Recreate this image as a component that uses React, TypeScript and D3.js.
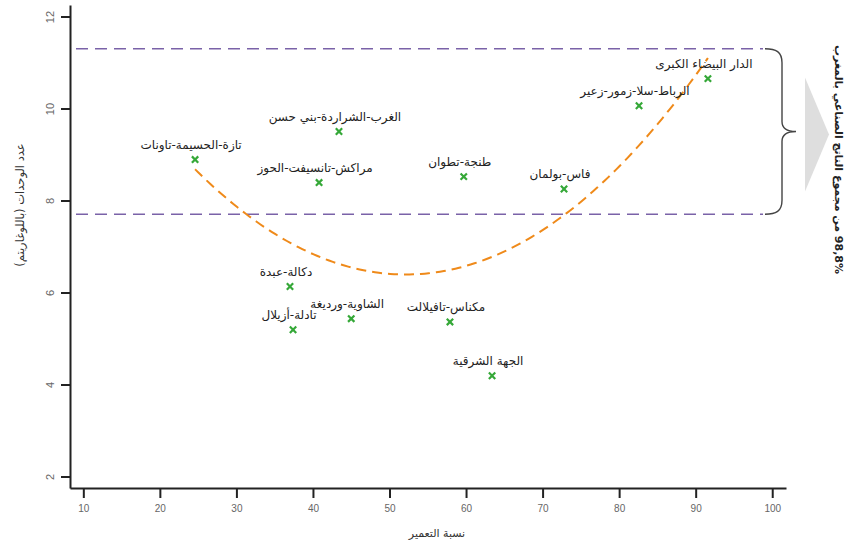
import React, { useEffect, useRef } from "react";
import * as d3 from "d3";

const regions = [
  "تازة-الحسيمة-تاونات",
  "الغرب-الشراردة-بني حسن",
  "مراكش-تانسيفت-الحوز",
  "طنجة-تطوان",
  "فاس-بولمان",
  "الرباط-سلا-زمور-زعير",
  "الدار البيضاء الكبرى",
  "دكالة-عبدة",
  "الشاوية-ورديغة",
  "تادلة-أزيلال",
  "مكناس-تافيلالت",
  "الجهة الشرقية",
];
const urbanRate = [24.6, 43.4, 40.8, 59.7, 72.8, 82.6, 91.6, 37.0, 45.0, 37.4, 57.9, 63.4];
const countValues = [8.89, 9.5, 8.39, 8.52, 8.25, 10.06, 10.65, 6.13, 5.43, 5.19, 5.36, 4.19];
const xTicks = [10, 20, 30, 40, 50, 60, 70, 80, 90, 100];
const yTicks = [2, 4, 6, 8, 10, 12];
const bandLevels = [11.3, 7.7];
const xTitle = "نسبة التعمير";
const yTitle = "عدد الوحدات (باللوغاريتم)";
const sideNote = "98,8% من مجموع الناتج الصناعي بالمغرب";

function quadFit(xs: number[], ys: number[]) {
  const n = xs.length;
  let s1 = 0, s2 = 0, s3 = 0, s4 = 0, t0 = 0, t1 = 0, t2 = 0;
  for (let i = 0; i < n; i++) {
    const x = xs[i], y = ys[i];
    s1 += x; s2 += x * x; s3 += x * x * x; s4 += x * x * x * x;
    t0 += y; t1 += x * y; t2 += x * x * y;
  }
  const M = [
    [n, s1, s2, t0],
    [s1, s2, s3, t1],
    [s2, s3, s4, t2],
  ];
  for (let i = 0; i < 3; i++) {
    for (let j = i + 1; j < 3; j++) {
      const f = M[j][i] / M[i][i];
      for (let k = i; k < 4; k++) M[j][k] -= f * M[i][k];
    }
  }
  const r = [0, 0, 0];
  for (let i = 2; i >= 0; i--) {
    let s = M[i][3];
    for (let k = i + 1; k < 3; k++) s -= M[i][k] * r[k];
    r[i] = s / M[i][i];
  }
  return r;
}

export default function App() {
  const ref = useRef<SVGSVGElement>(null);
  useEffect(() => {
    const svg = d3.select(ref.current);
    svg.selectAll("*").remove();
    const W = 850, H = 544;
    const x = d3.scaleLinear().domain([8.26, 101.8]).range([70, 786]);
    const y = d3.scaleLinear().domain([1.75, 12.25]).range([488, 5]);
    const fontAr = "'DejaVu Sans', sans-serif";
    const fontNum = "'Liberation Sans', Arial, sans-serif";

    svg.append("rect").attr("width", W).attr("height", H).attr("fill", "#fff");

    const xAxis = svg.append("g").attr("transform", "translate(0,488)")
      .call(d3.axisBottom(x).tickValues(xTicks).tickSize(10).tickSizeOuter(0).tickPadding(7));
    xAxis.select(".domain").attr("stroke", "#222").attr("stroke-width", 2);
    xAxis.selectAll(".tick line").attr("stroke", "#222").attr("stroke-width", 2);
    xAxis.selectAll(".tick text").attr("fill", "#666").attr("font-family", fontNum).attr("font-size", 10);

    const yAxis = svg.append("g").attr("transform", "translate(70,0)")
      .call(d3.axisLeft(y).tickValues(yTicks).tickSize(9).tickSizeOuter(0));
    yAxis.select(".domain").attr("stroke", "#222").attr("stroke-width", 2);
    yAxis.selectAll(".tick line").attr("stroke", "#222").attr("stroke-width", 2);
    yAxis.selectAll(".tick text")
      .attr("fill", "#666").attr("font-family", fontNum).attr("font-size", 11)
      .attr("x", null).attr("dy", null)
      .attr("text-anchor", "middle")
      .attr("transform", "translate(-20,0) rotate(-90)")
      .attr("dominant-baseline", "central");

    svg.selectAll(".band").data(bandLevels).enter().append("line")
      .attr("x1", 76).attr("x2", 763)
      .attr("y1", (d) => y(d)).attr("y2", (d) => y(d))
      .attr("stroke", "#7a62a8").attr("stroke-width", 1.6).attr("stroke-dasharray", "12,7");

    const yt = y(bandLevels[0]), yb = y(bandLevels[1]), ym = (yt + yb) / 2;
    const bx = 782;
    svg.append("path")
      .attr("d", `M765,${yt} C776,${yt} ${bx},${yt + 3} ${bx},${yt + 14} L${bx},${ym - 10} C${bx},${ym - 3} ${bx + 6},${ym} ${bx + 14},${ym} C${bx + 6},${ym} ${bx},${ym + 3} ${bx},${ym + 10} L${bx},${yb - 14} C${bx},${yb - 3} 776,${yb} 765,${yb}`)
      .attr("fill", "none").attr("stroke", "#444").attr("stroke-width", 1.4);

    svg.append("path")
      .attr("d", `M805,${ym - 54} L829,${ym + 3} L805,${ym + 60} Z`)
      .attr("fill", "#dedede");

    svg.append("text")
      .attr("transform", `translate(838,${ym + 28}) rotate(90)`)
      .attr("text-anchor", "middle").attr("dominant-baseline", "central")
      .attr("direction", "rtl")
      .attr("font-family", fontAr).attr("font-size", 11).attr("font-weight", "bold")
      .attr("fill", "#222")
      .text(sideNote);

    const [a, b, c] = quadFit(urbanRate, countValues);
    const xs = d3.range(d3.min(urbanRate)!, d3.max(urbanRate)! + 0.01, 0.5);
    const line = d3.line<number>().x((v) => x(v)).y((v) => y(a + b * v + c * v * v)).curve(d3.curveBasis);
    svg.append("path").attr("d", line(xs)!)
      .attr("fill", "none").attr("stroke", "#ef8a1a").attr("stroke-width", 2)
      .attr("stroke-dasharray", "10,6");

    const sym = d3.symbol().type(d3.symbolTimes).size(28);
    svg.selectAll(".pt").data(urbanRate).enter().append("path")
      .attr("d", sym()!)
      .attr("transform", (d, i) => `translate(${x(d)},${y(countValues[i])})`)
      .attr("fill", "none").attr("stroke", "#35a838").attr("stroke-width", 2.2);

    svg.selectAll(".lbl").data(regions).enter().append("text")
      .attr("x", (d, i) => x(urbanRate[i]) - 4)
      .attr("y", (d, i) => y(countValues[i]) - 11)
      .attr("text-anchor", "middle")
      .attr("direction", "rtl")
      .attr("font-family", fontAr).attr("font-size", 12)
      .attr("fill", "#222")
      .text((d) => d);

    svg.append("text").attr("x", 437).attr("y", 537)
      .attr("text-anchor", "middle").attr("direction", "rtl")
      .attr("font-family", fontAr).attr("font-size", 11).attr("fill", "#333")
      .text(xTitle);
    svg.append("text")
      .attr("transform", "translate(20,205) rotate(-90)")
      .attr("text-anchor", "middle").attr("direction", "rtl").attr("dominant-baseline", "central")
      .attr("font-family", fontAr).attr("font-size", 11.5).attr("fill", "#333")
      .text(yTitle);
  }, []);
  return (
    <svg ref={ref} width={850} height={544}
      style={{ position: "fixed", left: 0, top: 0, display: "block" }} />
  );
}
